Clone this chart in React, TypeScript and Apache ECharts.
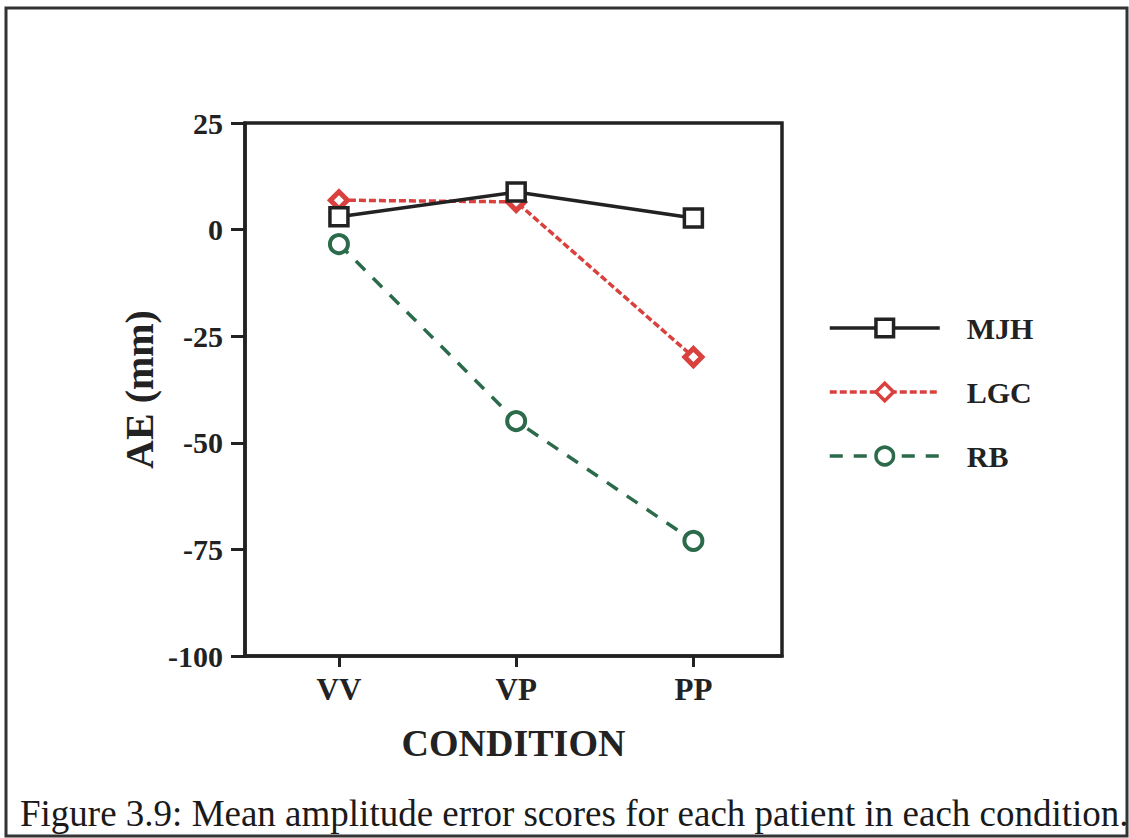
import React, { useEffect, useRef } from "react";
import * as echarts from "echarts";

const categories = ["VV", "VP", "PP"];
const seriesNames = ["MJH", "LGC", "RB"];
const mjh = [3, 8.8, 2.7];
const lgc = [6.9, 6.5, -29.9];
const rb = [-3.4, -44.9, -73];
const yTicks = { min: -100, max: 25, interval: 25 };
const caption = "Figure 3.9: Mean amplitude error scores for each patient in each condition.";

const FONT = "'Liberation Serif', 'Times New Roman', serif";
const INK = "#222";
const RED = "#d9413f";
const GREEN = "#2b6b4b";

const toPairs = (vals: number[]) => vals.map((v, i) => [i + 1, v]);

export default function App() {
  const ref = useRef<HTMLDivElement>(null);
  useEffect(() => {
    document.body.style.margin = "0";
    const chart = echarts.init(ref.current!, null, { renderer: "svg" });
    const symbolBase = { color: "#fff", borderWidth: 3.5 };
    chart.setOption({
      animation: false,
      backgroundColor: "#fff",
      grid: {
        left: 245,
        top: 123,
        width: 537,
        height: 533,
        show: true,
        borderColor: INK,
        borderWidth: 3.5,
        containLabel: false,
      },
      legend: {
        orient: "vertical",
        left: 823,
        top: 308,
        itemWidth: 110,
        itemHeight: 22,
        itemGap: 34,
        data: seriesNames,
        lineStyle: { width: 3.5 },
        itemStyle: { borderWidth: 3.5 },
        textStyle: {
          fontFamily: FONT,
          fontWeight: "bold",
          fontSize: 30,
          color: INK,
          padding: [0, 0, 0, 22],
        },
      },
      xAxis: {
        type: "value",
        min: 0.47,
        max: 3.5,
        name: "CONDITION",
        nameLocation: "middle",
        nameGap: 68,
        nameTextStyle: { fontFamily: FONT, fontWeight: "bold", fontSize: 38, color: INK },
        axisLine: { show: true, onZero: false, lineStyle: { color: INK, width: 3.5 } },
        axisTick: { show: true, length: 11, customValues: [1, 2, 3], lineStyle: { color: INK, width: 3 } },
        axisLabel: {
          customValues: [1, 2, 3],
          formatter: (v: number) => categories[Math.round(v) - 1] ?? "",
          fontFamily: FONT,
          fontWeight: "bold",
          fontSize: 31,
          color: INK,
          margin: 18,
        },
        splitLine: { show: false },
      },
      yAxis: {
        type: "value",
        min: yTicks.min,
        max: yTicks.max,
        interval: yTicks.interval,
        name: "AE (mm)",
        nameLocation: "middle",
        nameGap: 86,
        nameTextStyle: { fontFamily: FONT, fontWeight: "bold", fontSize: 40, color: INK },
        axisLine: { show: true, onZero: false, lineStyle: { color: INK, width: 3.5 } },
        axisTick: { show: true, length: 14, lineStyle: { color: INK, width: 3 } },
        axisLabel: { fontFamily: FONT, fontWeight: "bold", fontSize: 30, color: INK, margin: 22 },
        splitLine: { show: false },
      },
      series: [
        {
          name: "RB",
          type: "line",
          data: toPairs(rb),
          symbol: "circle",
          symbolSize: 18,
          z: 2,
          lineStyle: { color: GREEN, width: 3.5, type: [13, 11] },
          itemStyle: { ...symbolBase, borderColor: GREEN, borderWidth: 4 },
        },
        {
          name: "LGC",
          type: "line",
          data: toPairs(lgc),
          symbol: "diamond",
          symbolSize: 17,
          z: 3,
          lineStyle: { color: RED, width: 3.5, type: [7, 3] },
          itemStyle: { ...symbolBase, borderColor: RED, borderWidth: 5 },
        },
        {
          name: "MJH",
          type: "line",
          data: toPairs(mjh),
          symbol: "rect",
          symbolSize: 18,
          z: 4,
          lineStyle: { color: INK, width: 3.5, type: "solid" },
          itemStyle: { ...symbolBase, borderColor: INK },
        },
      ],
      graphic: [
        {
          type: "rect",
          shape: { x: 6, y: 8, width: 1121, height: 828 },
          style: { fill: "none", stroke: "#333", lineWidth: 3 },
          silent: true,
          z: -1,
        },
        {
          type: "text",
          left: 20,
          top: 795,
          style: { text: caption, fontFamily: FONT, fontSize: 37, fill: "#1a1a1a" },
        },
      ],
    });
    return () => chart.dispose();
  }, []);
  return <div ref={ref} style={{ width: 1129, height: 838 }} />;
}
